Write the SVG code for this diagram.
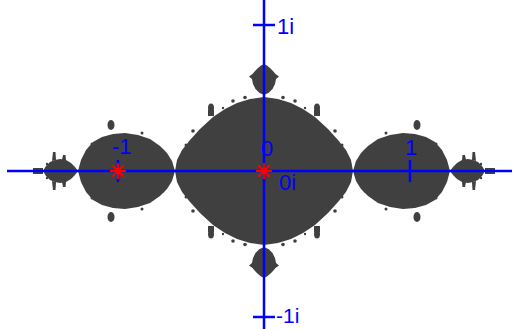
<svg xmlns="http://www.w3.org/2000/svg" xmlns:xlink="http://www.w3.org/1999/xlink" width="517" height="329" viewBox="0 0 517 329">
<style>
.fr{fill:#404040;stroke:none}
.ax{stroke:#0000ff;stroke-width:2.5;fill:none}
.st{stroke:#ff0000;stroke-width:1.8;fill:none}
.lb{font-family:"Liberation Sans",Arial,sans-serif;font-size:22px;fill:#0000ff}
</style>
<defs>
<g id="quarter" class="fr">
<path d="M175,171 L177,160 L182,150 L190,140 L200,129 L213,117 L225,109 L237,103 L250,99 L264,97 L264.5,97 L264.5,171.5 L175,171.5 Z"/>
<path d="M78,171 L81,160 L86,150 L93,142 L102,137 L113,134 L125,133 L138,135 L150,139 L160,146 L167,153 L172,161 L175,171 L175,171.5 L78,171.5 Z"/>
<path d="M43,171 L46,166 L50,162 L55,160 L60,159 L66,160 L71,163 L75,167 L78,171 L78,171.5 L43,171.5 Z"/>
<path d="M52,161 L53,152 L55.5,152 L56,160 Z"/>
<path d="M62,160 L63,155 L65.5,155 L66,160 Z"/>
<rect x="33" y="168" width="10" height="3.5"/>
<path d="M264.5,95 L259.5,93 L255.5,89 L253,84 L252,79 L249,76.5 L252.5,74 L255,71 L258,68 L261,65.5 L264.5,64 Z"/>
<ellipse cx="211" cy="108" rx="3" ry="4.5"/>
<rect x="208" y="110" width="6" height="6"/>
<circle cx="233" cy="101" r="1.8"/>
<circle cx="245" cy="97.5" r="1.8"/>
<circle cx="193" cy="131" r="1.8"/>
<circle cx="186" cy="145" r="1.5"/>
<circle cx="223" cy="108" r="1.2"/>
<ellipse cx="111" cy="125" rx="3.5" ry="5"/>
<circle cx="92" cy="144" r="1.5"/>
<circle cx="142" cy="133" r="1.5"/>
<circle cx="163" cy="151" r="1.5"/>
<circle cx="47" cy="164" r="1.2"/>
</g>
</defs>
<g id="julia">
<use xlink:href="#quarter"/>
<use xlink:href="#quarter" transform="translate(528,0) scale(-1,1)"/>
<use xlink:href="#quarter" transform="translate(0,342) scale(1,-1)"/>
<use xlink:href="#quarter" transform="translate(528,342) scale(-1,-1)"/>
</g>
<g id="axes" class="ax">
<path d="M7,171 H512"/>
<path d="M264,0 V329"/>
<path d="M118,160 V182 M410,160 V182 M253,25 H275 M253,317 H275"/>
</g>
<g id="markers" class="st">
<g id="star0">
<path d="M256,171 H272 M264,163 V179 M258.3,165.3 L269.7,176.7 M258.3,176.7 L269.7,165.3"/>
<circle cx="264" cy="171" r="3" fill="#ff0000" stroke="none"/>
</g>
<g id="starm1">
<path d="M110,171 H126 M118,163 V179 M112.3,165.3 L123.7,176.7 M112.3,176.7 L123.7,165.3"/>
<circle cx="118" cy="171" r="3" fill="#ff0000" stroke="none"/>
</g>
</g>
<g id="labels" class="lb">
<text x="112" y="154">-1</text>
<text x="261" y="156">0</text>
<text x="405" y="155">1</text>
<text x="279" y="190">0i</text>
<text x="277" y="34">1i</text>
<text x="276" y="323" style="font-size:21px">-1i</text>
</g>
</svg>
